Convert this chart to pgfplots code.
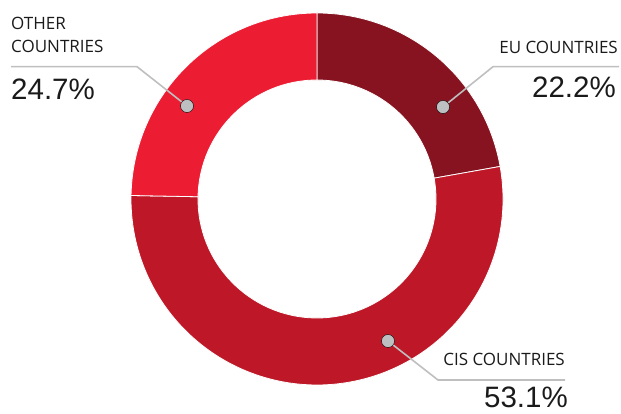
\documentclass[border=0pt]{standalone}
\usepackage{pgfplots}
\pgfplotsset{compat=1.18}
\usepackage{pgfplotstable}
\usetikzlibrary{calc}
\usepackage{fontspec}
\setmainfont{Liberation Sans}
\newfontfamily\labfont{Open Sans}
\definecolor{eucol}{HTML}{86131F}
\definecolor{ciscol}{HTML}{BE1828}
\definecolor{othcol}{HTML}{EC1C33}
\definecolor{leader}{HTML}{BFBFBF}
\definecolor{dotcol}{HTML}{BEBFC1}
\definecolor{txt}{HTML}{1A1A1A}

\pgfplotstableread{
label value
EU 22.2
CIS 53.1
Other 24.7
}\shares

\pgfplotstablegetelem{0}{value}\of\shares \let\vEU\pgfplotsretval
\pgfplotstablegetelem{1}{value}\of\shares \let\vCIS\pgfplotsretval
\pgfplotstablegetelem{2}{value}\of\shares \let\vOth\pgfplotsretval
\pgfmathsetmacro\aA{90}
\pgfmathsetmacro\aB{\aA-3.6*\vEU}
\pgfmathsetmacro\aC{\aB-3.6*\vCIS}
\pgfmathsetmacro\aD{\aC-3.6*\vOth}
\def\Ro{186pt}
\def\Ri{119pt}

\begin{document}
\begin{tikzpicture}
\begin{axis}[x=1pt,y=1pt,xmin=0,xmax=621,ymin=0,ymax=414,
  hide axis,clip=false]
\coordinate (BL) at (axis cs:0,0);
\coordinate (TR) at (axis cs:621,414);
\coordinate (C) at (axis cs:317,215);
% sectors
\filldraw[fill=eucol,draw=white,line width=0.8pt]
  ($(C)+(\aA:\Ro)$) arc[start angle=\aA,end angle=\aB,radius=\Ro]
  -- ($(C)+(\aB:\Ri)$) arc[start angle=\aB,end angle=\aA,radius=\Ri] -- cycle;
\filldraw[fill=ciscol,draw=white,line width=0.8pt]
  ($(C)+(\aB:\Ro)$) arc[start angle=\aB,end angle=\aC,radius=\Ro]
  -- ($(C)+(\aC:\Ri)$) arc[start angle=\aC,end angle=\aB,radius=\Ri] -- cycle;
\filldraw[fill=othcol,draw=white,line width=0.8pt]
  ($(C)+(\aC:\Ro)$) arc[start angle=\aC,end angle=\aD,radius=\Ro]
  -- ($(C)+(\aD:\Ri)$) arc[start angle=\aD,end angle=\aC,radius=\Ri] -- cycle;
% leader lines
\addplot[leader,line width=1.6pt] coordinates {(11,347.3) (137,347.3) (187,308)};
\addplot[leader,line width=1.6pt] coordinates {(619,347.3) (493,347.3) (443,307)};
\addplot[leader,line width=1.6pt] coordinates {(565,34) (438,34) (388,73)};
\addplot[only marks,mark=*,mark size=6.5pt,mark options={fill=dotcol,draw=none}]
  coordinates {(187,308) (443,307) (388,73)};
% labels
\node[anchor=base west,inner sep=0,text=txt,font=\labfont\fontsize{17}{17}\selectfont] at (axis cs:11,384.7) {OTHER};
\node[anchor=base west,inner sep=0,text=txt,font=\labfont\fontsize{17}{17}\selectfont] at (axis cs:11,361.7) {COUNTRIES};
\node[anchor=base west,inner sep=0,text=txt,font=\fontsize{29.5}{30}\selectfont] at (axis cs:11,314) {24.7\%};
\node[anchor=base east,inner sep=0,text=txt,font=\labfont\fontsize{17}{17}\selectfont] at (axis cs:618,360) {EU COUNTRIES};
\node[anchor=base east,inner sep=0,text=txt,font=\fontsize{29.5}{30}\selectfont] at (axis cs:616,316) {22.2\%};
\node[anchor=base east,inner sep=0,text=txt,font=\labfont\fontsize{17}{17}\selectfont] at (axis cs:565,48) {CIS COUNTRIES};
\node[anchor=base east,inner sep=0,text=txt,font=\fontsize{29.5}{30}\selectfont] at (axis cs:568,6) {53.1\%};
\end{axis}
\pgfresetboundingbox
\path[use as bounding box] (BL) rectangle (TR);
\end{tikzpicture}
\end{document}
